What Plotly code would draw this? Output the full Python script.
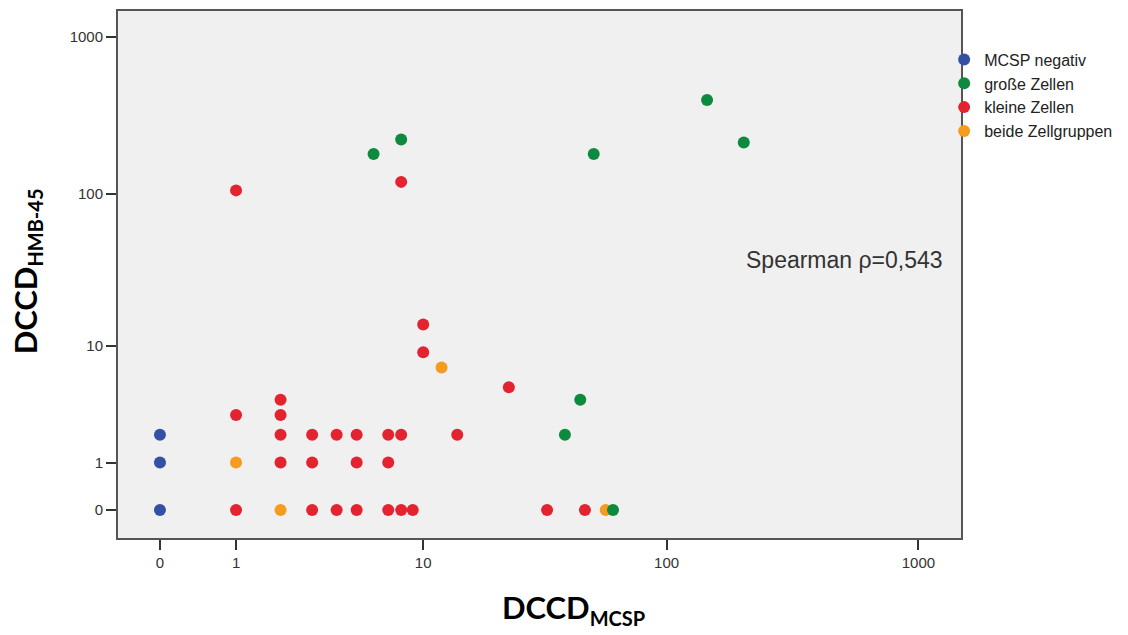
import numpy as np
import plotly.graph_objects as go

# ---- data (DCCD values) ----
neg_x = [0, 0, 0]
neg_y = [0, 1, 2]

gross_x = [6, 8, 51, 145, 203, 45, 39, 61]
gross_y = [179, 222, 179, 395, 212, 4, 2, 0]

klein_x = [1, 8, 10, 10, 23, 1, 2, 2,
           1, 3, 4, 5, 7, 8, 9, 33, 47,
           2, 3, 5, 7,
           2, 3, 4, 5, 7, 8, 14]
klein_y = [105, 119, 14, 9, 5, 3, 3, 4,
           0, 0, 0, 0, 0, 0, 0, 0, 0,
           1, 1, 1, 1,
           2, 2, 2, 2, 2, 2, 2]

beide_x = [12, 1, 2, 57]
beide_y = [7, 1, 0, 0]

tick_vals = [0, 1, 10, 100, 1000]
tick_text = ["0", "1", "10", "100", "1000"]

series = [
    # name, x, y, color, legend rank (drawn in this order)
    ("MCSP negativ", neg_x, neg_y, "#3350a4", 1),
    ("kleine Zellen", klein_x, klein_y, "#e42330", 3),
    ("beide Zellgruppen", beide_x, beide_y, "#f59b20", 4),
    ("große Zellen", gross_x, gross_y, "#0e8a3e", 2),
]

fig = go.Figure()
for name, xs, ys, col, rank in series:
    fig.add_trace(go.Scatter(
        x=np.array(xs) + 1, y=np.array(ys) + 1,
        mode="markers", name=name, legendrank=rank,
        marker=dict(size=12, color=col, line=dict(width=0)),
    ))

axis_common = dict(
    type="log",
    tickvals=[v + 1 for v in tick_vals],
    ticktext=tick_text,
    showgrid=False, zeroline=False,
    showline=True, linecolor="#555555", linewidth=2, mirror=True,
    ticks="outside", ticklen=10, tickwidth=1.5, tickcolor="#333333",
    tickfont=dict(family="Liberation Sans", size=15, color="#333333"),
)

fig.update_xaxes(range=[-0.166, 3.169], **axis_common)
fig.update_yaxes(range=[-0.1774, 3.162], **axis_common)

fig.add_annotation(
    xref="paper", yref="paper", x=0.743, y=0.527, xanchor="left", yanchor="middle",
    text="Spearman ρ=0,543", showarrow=False,
    font=dict(family="Liberation Sans", size=23, color="#333333"),
)

fig.add_annotation(
    xref="paper", yref="paper", x=0.54, y=-0.135, xanchor="center", yanchor="middle",
    text="<b>DCCD<sub><span style='font-size:20px'>MCSP</span></sub></b>",
    showarrow=False,
    font=dict(family="Lato", size=31, color="#000000"),
)
fig.add_annotation(
    xref="paper", yref="paper", x=-0.108, y=0.506, xanchor="center", yanchor="middle",
    text="<b>DCCD<sub><span style='font-size:20px'>HMB-45</span></sub></b>",
    textangle=-90, showarrow=False,
    font=dict(family="Lato", size=31, color="#000000"),
)

fig.update_layout(
    width=1128, height=635,
    margin=dict(l=118, r=167, t=11, b=97, autoexpand=False),
    paper_bgcolor="white", plot_bgcolor="#f0f0f0",
    showlegend=True,
    legend=dict(
        x=0.980, y=0.94, xanchor="left", yanchor="top",
        bgcolor="rgba(0,0,0,0)",
        font=dict(family="Liberation Sans", size=16, color="#222222"),
        tracegroupgap=0, itemwidth=30,
    ),
)

fig.write_html("out.html")
